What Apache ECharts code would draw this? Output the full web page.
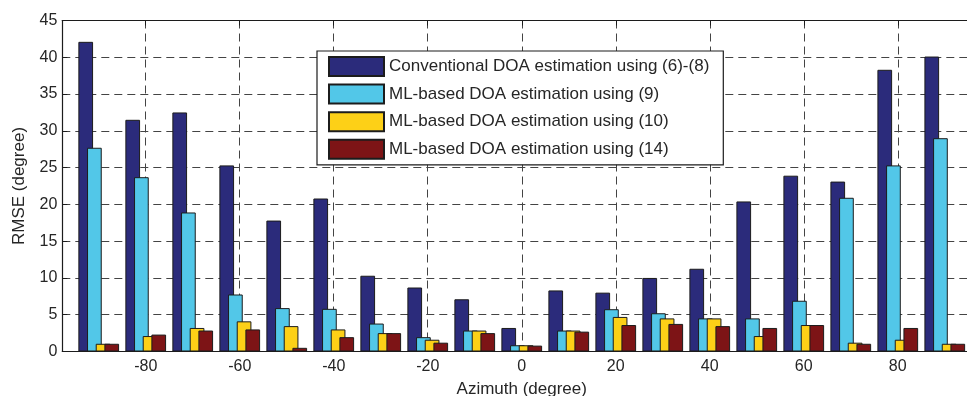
<!DOCTYPE html>
<html>
<head>
<meta charset="utf-8">
<title>RMSE vs Azimuth</title>
<script src="https://cdn.jsdelivr.net/npm/echarts@6/dist/echarts.min.js"></script>
<style>
  html, body { margin: 0; padding: 0; background: #fff; }
  #chart { width: 967px; height: 396px; }
</style>
</head>
<body>
<div id="chart"></div>
<script>
// Azimuth angles (degrees) at which each method was evaluated
const azimuth = [-90, -80, -70, -60, -50, -40, -30, -20, -10, 0, 10, 20, 30, 40, 50, 60, 70, 80, 90];

// RMSE (degree) per method
const conventional = [42.1, 31.5, 32.5, 25.3, 17.8, 20.8, 10.3, 8.7, 7.1, 3.2, 8.3, 8.0, 10.0, 11.25, 20.4, 23.9, 23.1, 38.3, 40.1];
const mlEq9        = [27.7, 23.7, 18.9, 7.75, 5.9, 5.8, 3.8, 1.95, 2.85, 0.85, 2.85, 5.75, 5.2, 4.5, 4.5, 6.9, 20.9, 25.3, 29.0];
const mlEq10       = [1.05, 2.1, 3.2, 4.1, 3.45, 3.0, 2.5, 1.6, 2.85, 0.85, 2.85, 4.7, 4.5, 4.5, 2.1, 3.6, 1.2, 1.6, 1.05];
const mlEq14       = [1.05, 2.3, 2.85, 3.0, 0.5, 1.95, 2.5, 1.2, 2.5, 0.8, 2.7, 3.6, 3.75, 3.45, 3.2, 3.6, 1.05, 3.2, 1.05];

const seriesNames = [
  'Conventional DOA estimation using (6)-(8)',
  'ML-based DOA estimation using (9)',
  'ML-based DOA estimation using (10)',
  'ML-based DOA estimation using (14)'
];
const seriesColors = ['#2b2b7b', '#52c7e8', '#fdd017', '#7d1416'];

// Tick labels
const xTicks = [-80, -60, -40, -20, 0, 20, 40, 60, 80];

const FONT = 'Liberation Sans, Arial, Helvetica, sans-serif';
const TEXT = '#262626';
const GRID_LINE = { show: true, lineStyle: { color: '#444', width: 1, type: [8, 5] } };

const values = [conventional, mlEq9, mlEq10, mlEq14];

const series = values.map((vals, i) => ({
  name: seriesNames[i],
  type: 'bar',
  barWidth: 14.7,
  barGap: '-41%',
  data: azimuth.map((a, k) => [a, vals[k]]),
  itemStyle: {
    color: seriesColors[i],
    borderColor: '#1c1c1c',
    borderWidth: 1
  },
  emphasis: { disabled: true }
}));

const chart = echarts.init(document.getElementById('chart'), null, { renderer: 'canvas' });
chart.setOption({
  animation: false,
  backgroundColor: '#fff',
  textStyle: { fontFamily: FONT, color: TEXT },
  grid: { left: 62.3, right: -14.2, top: 20.5, bottom: 44.5, outerBoundsMode: 'none', containLabel: false },
  legend: {
    orient: 'vertical',
    left: 317,
    top: 51,
    data: seriesNames,
    icon: 'rect',
    itemWidth: 55,
    itemHeight: 19,
    itemGap: 6.6,
    padding: [5, 14, 5, 11],
    backgroundColor: '#fff',
    borderColor: '#1c1c1c',
    borderWidth: 1.2,
    borderRadius: 0,
    textStyle: { fontFamily: FONT, fontSize: 17, color: TEXT },
    selectedMode: false
  },
  xAxis: [
    {
      type: 'value',
      min: -97.75,
      max: 97.75,
      name: 'Azimuth (degree)',
      nameLocation: 'middle',
      nameGap: 29,
      nameTextStyle: { fontFamily: FONT, fontSize: 17, color: TEXT },
      axisLine: { show: true, onZero: false, lineStyle: { color: '#1c1c1c', width: 1.2 } },
      axisTick: { show: true, inside: true, length: 5, customValues: xTicks, lineStyle: { color: '#1c1c1c' } },
      axisLabel: { show: true, customValues: xTicks, margin: 7, fontFamily: FONT, fontSize: 16, color: TEXT },
      splitLine: GRID_LINE
    },
    {
      type: 'value',
      position: 'top',
      min: -97.75,
      max: 97.75,
      axisLine: { show: true, onZero: false, lineStyle: { color: '#1c1c1c', width: 1.2 } },
      axisTick: { show: true, inside: true, length: 5, customValues: xTicks, lineStyle: { color: '#1c1c1c' } },
      axisLabel: { show: false },
      splitLine: { show: false }
    }
  ],
  yAxis: {
    type: 'value',
    min: 0,
    max: 45,
    interval: 5,
    name: 'RMSE (degree)',
    nameLocation: 'middle',
    nameGap: 34,
    nameTextStyle: { fontFamily: FONT, fontSize: 17, color: TEXT },
    axisLine: { show: true, onZero: false, lineStyle: { color: '#1c1c1c', width: 1.2 } },
    axisTick: { show: true, inside: true, length: 5, lineStyle: { color: '#1c1c1c' } },
    axisLabel: { margin: 5, fontFamily: FONT, fontSize: 16, color: TEXT },
    splitLine: GRID_LINE
  },
  series: series
});
</script>
</body>
</html>
